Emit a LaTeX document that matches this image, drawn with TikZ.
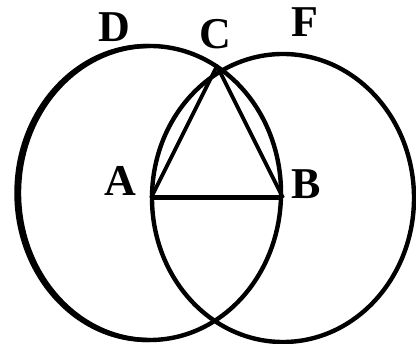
\documentclass[tikz,border=0pt]{standalone}
\usepackage{fontspec}
\setmainfont{Liberation Serif}
\begin{document}
\begin{tikzpicture}[x=1pt,y=-1pt,
  circ/.style={draw=black,line width=4.4pt},
  tri/.style={draw=black,line width=3.8pt,line join=round},
  lbl/.style={font=\fontsize{44}{44}\selectfont\bfseries,inner sep=0pt}]
\useasboundingbox (0,0) rectangle (416,344);
\coordinate (A) at (151,198);
\coordinate (B) at (283,198);
\coordinate (C) at (217,66);
\coordinate (L) at (150,193);
\coordinate (R) at (283,198);
\coordinate (L2) at (147.5,193);
% circles
\draw[circ] (L) ellipse [x radius=131, y radius=147];
\draw[circ] (R) ellipse [x radius=131, y radius=144];
% smoothly thicker left side of left circle
\begin{scope}
\clip (0,0) rectangle (150,344);
\draw[circ] (L2) ellipse [x radius=131, y radius=147];
\end{scope}
% triangle
\draw[tri] (A) -- (C) -- (B);
\draw[black,line width=5pt] (A) -- (B);
% labels
\node[lbl] (lD) at (114,27) {D};
\node[lbl] (lC) at (215,34) {C};
\node[lbl] (lF) at (305,22) {F};
\node[lbl] (lA) at (120,181) {A};
\node[lbl] (lB) at (306,184) {B};
\end{tikzpicture}
\end{document}
